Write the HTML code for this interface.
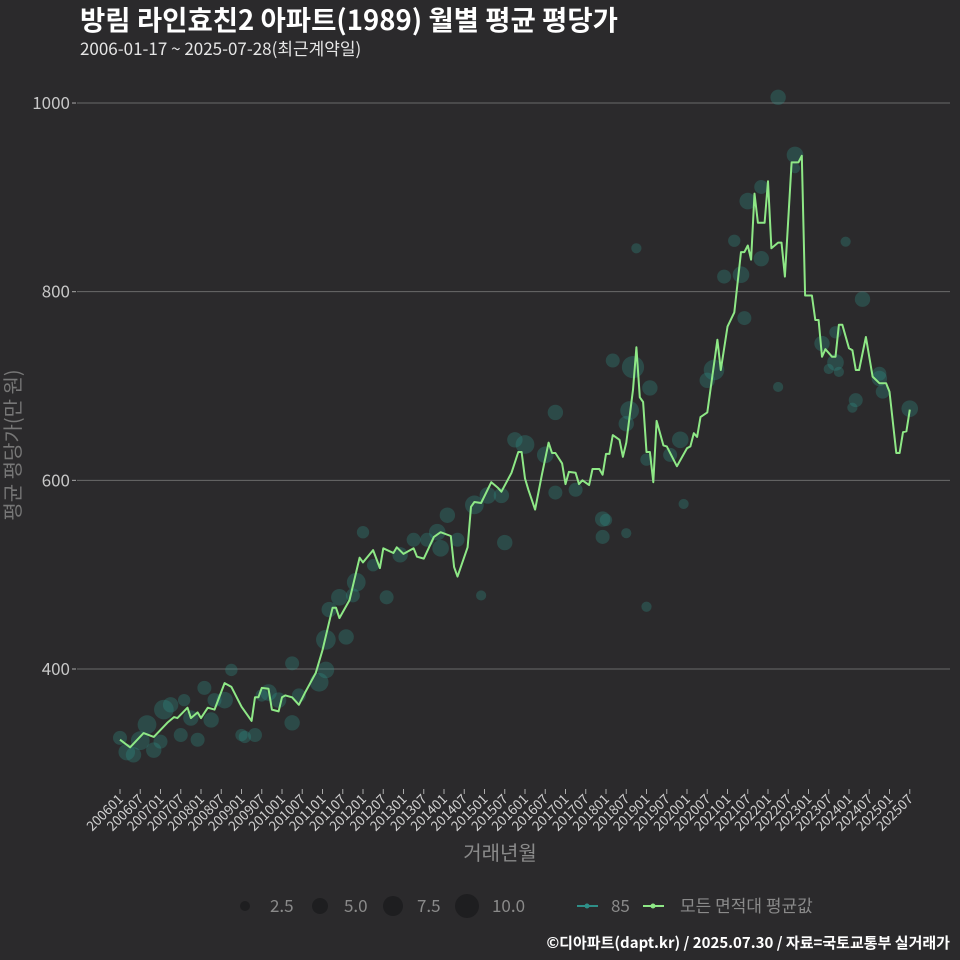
<!DOCTYPE html>
<html><head><meta charset="utf-8">
<style>
html,body{margin:0;padding:0;background:#2b2a2c;}
svg{display:block;font-family:"Noto Sans CJK KR","Liberation Sans",sans-serif;}
</style></head>
<body>
<svg id="chart" width="960" height="960" viewBox="0 0 960 960">
<rect width="960" height="960" fill="#2b2a2c"/>
<text x="80" y="30" fill="#ffffff" font-size="27.5" font-weight="bold">방림 라인효친2 아파트(1989) 월별 평균 평당가</text>
<text x="80" y="55" fill="#e6e6e6" font-size="17">2006-01-17 ~ 2025-07-28(최근계약일)</text>
<g id="grid"></g>
<g id="bubbles"></g>
<path id="avgline" fill="none" stroke="#8ee886" stroke-width="2" stroke-linejoin="round"/>
<g id="xaxis"></g>
<text x="500" y="860" text-anchor="middle" fill="#8a8a8a" font-size="20">거래년월</text>
<text transform="translate(20,445) rotate(-90)" text-anchor="middle" fill="#777" font-size="20">평균 평당가(만 원)</text>
<g>
  <circle cx="245" cy="906" r="5" fill="#1e1e20"/>
  <text x="270" y="912" fill="#8a8a8a" font-size="17">2.5</text>
  <circle cx="320" cy="906" r="8" fill="#1e1e20"/>
  <text x="344" y="912" fill="#8a8a8a" font-size="17">5.0</text>
  <circle cx="393" cy="906" r="10" fill="#1e1e20"/>
  <text x="417" y="912" fill="#8a8a8a" font-size="17">7.5</text>
  <circle cx="467" cy="906" r="12" fill="#1e1e20"/>
  <text x="492" y="912" fill="#8a8a8a" font-size="17">10.0</text>
  <line x1="577" y1="906" x2="598" y2="906" stroke="#2e8f88" stroke-width="2"/>
  <circle cx="587" cy="906" r="2.5" fill="#2e8f88"/>
  <text x="611" y="912" fill="#8a8a8a" font-size="17">85</text>
  <line x1="643" y1="906" x2="664" y2="906" stroke="#8ee886" stroke-width="2"/>
  <circle cx="653" cy="906" r="2.5" fill="#8ee886"/>
  <text x="680" y="912" fill="#8a8a8a" font-size="17">모든 면적대 평균값</text>
</g>
<text x="950" y="948" text-anchor="end" fill="#ffffff" font-size="15" font-weight="bold">©디아파트(dapt.kr) / 2025.07.30 / 자료=국토교통부 실거래가</text>
</svg>
<script>
const yTicks = [400, 600, 800, 1000];
const xTickLabels = ["200601","200607","200701","200707","200801","200807","200901","200907","201001","201007","201101","201107","201201","201207","201301","201307","201401","201407","201501","201507","201601","201607","201701","201707","201801","201807","201901","201907","202001","202007","202101","202107","202201","202207","202301","202307","202401","202407","202501","202507"];
const lineMonths = [0,3,7,10,14,16,17,20,21,23,24,26,28,31,33,36,39,40,41,42,44,45,47,48,49,51,53,55,58,60,63,64,65,68,71,72,75,77,78,81,82,84,87,88,90,93,95,98,99,100,103,104,105,107,110,112,113,116,118,119,120,121,123,125,127,128,129,131,132,133,135,136,137,139,140,142,143,144,145,146,148,149,150,152,153,154,155,156,157,158,159,161,162,165,168,169,170,171,172,174,177,178,180,182,184,185,186,187,188,189,191,192,193,195,196,197,199,201,202,203,205,206,207,208,209,211,212,213,214,216,217,218,219,221,223,225,227,228,230,231,232,233,234];
const lineValues = [325,317,332,328,343,349,348,359,348,354,348,359,357,385,381,360,345,370,370,380,379,357,355,370,372,370,362,376,396,420,465,465,454,473,518,513,526,507,528,523,529,522,528,519,517,540,545,541,508,498,529,572,577,576,598,592,588,608,630,630,602,590,569,606,640,629,629,618,596,609,608,596,600,595,612,612,606,628,628,648,643,625,640,696,741,688,683,630,630,598,663,637,636,615,634,636,650,646,667,672,749,717,763,778,842,842,849,834,904,873,873,917,846,852,852,816,937,937,944,796,796,770,770,731,739,731,731,765,765,740,738,717,717,752,710,703,703,694,629,629,651,652,675];
const bubbleMonths = [0,2,4,6,8,10,12,13,15,18,19,21,23,25,27,28,31,33,36,37,40,42,44,47,51,51,53,59,61,61,62,67,65,69,70,79,72,75,83,87,91,94,97,95,100,107,105,109,113,114,117,120,129,126,129,135,143,144,146,150,151,152,153,156,157,156,163,166,174,176,179,182,185,186,190,184,190,195,200,200,195,215,220,212,208,212,210,213,218,217,225,225,226,234,150,167,143];
const bubbleValues = [327,312,309,324,341,314,323,357,362,330,367,348,325,380,346,367,367,399,330,328,330,372,375,367,343,406,372,386,399,431,463,434,476,478,492,476,545,510,521,537,537,545,563,528,537,478,574,584,584,534,643,638,672,627,587,590,540,558,727,660,674,720,846,622,698,466,627,643,706,717,816,854,772,896,835,818,911,1006,945,931,699,853,792,757,745,725,718,715,685,677,713,708,694,676,544,575,559];
const bubbleCounts = [3,5,4,7,7,4,3,8,4,3,2,4,3,3,4,3,5,2,2,2,3,2,5,4,4,3,3,7,5,8,4,4,5,3,7,3,2,2,4,3,3,5,4,5,3,1,7,5,4,4,4,7,4,5,3,3,3,2,3,4,7,11,1,2,4,1,3,5,4,9,3,2,3,5,4,5,3,4,5,1,1,1,4,2,4,5,1,1,3,1,3,4,3,5,1,1,4];

const NS = "http://www.w3.org/2000/svg";
const X0 = 120, XSTEP = 3.375;
function xScale(m){ return X0 + m * XSTEP; }
function yScale(v){ return 669 - (v - 400) * 0.9433; }
function rScale(c){ return 2.5 + Math.sqrt(c) * 2.6; }

const grid = document.getElementById('grid');
yTicks.forEach(t => {
  const ln = document.createElementNS(NS,'line');
  ln.setAttribute('x1',77); ln.setAttribute('x2',950);
  ln.setAttribute('y1',yScale(t)); ln.setAttribute('y2',yScale(t));
  ln.setAttribute('stroke','#6a6a6a'); ln.setAttribute('stroke-width','1');
  
  
  grid.appendChild(ln);
  const tk = document.createElementNS(NS,'line');
  tk.setAttribute('x1',72); tk.setAttribute('x2',76);
  tk.setAttribute('y1',yScale(t)); tk.setAttribute('y2',yScale(t));
  tk.setAttribute('stroke','#aaa');
  
  
  grid.appendChild(tk);
  const tx = document.createElementNS(NS,'text');
  tx.setAttribute('x',70); tx.setAttribute('y',yScale(t)+6);
  tx.setAttribute('text-anchor','end'); tx.setAttribute('fill','#c8c8c8'); tx.setAttribute('font-size','17');
  tx.textContent = t;
  
  
  grid.appendChild(tx);
});

const bg = document.getElementById('bubbles');
bubbleMonths.forEach((m,i) => {
  const c = document.createElementNS(NS,'circle');
  c.setAttribute('cx', xScale(m)); c.setAttribute('cy', yScale(bubbleValues[i]));
  c.setAttribute('r', rScale(bubbleCounts[i]));
  c.setAttribute('fill','rgba(48,150,140,0.3)');
  
  
  bg.appendChild(c);
});

document.getElementById('avgline').setAttribute('d',
  lineMonths.map((m,i) => (i ? 'L' : 'M') + xScale(m).toFixed(1) + ',' + yScale(lineValues[i]).toFixed(1)).join(' '));

const xa = document.getElementById('xaxis');
xTickLabels.forEach((lab,i) => {
  const x = xScale(i*6);
  const tk = document.createElementNS(NS,'line');
  tk.setAttribute('x1',x); tk.setAttribute('x2',x); tk.setAttribute('y1',789); tk.setAttribute('y2',794);
  tk.setAttribute('stroke','#aaa');
  
  
  xa.appendChild(tk);
  const tx = document.createElementNS(NS,'text');
  tx.setAttribute('transform','translate('+(x+4)+',800) rotate(-45)');
  tx.setAttribute('text-anchor','end'); tx.setAttribute('fill','#d0d0d0'); tx.setAttribute('font-size','13.5');
  tx.textContent = lab;
  
  
  xa.appendChild(tx);
});
</script>
</body></html>
